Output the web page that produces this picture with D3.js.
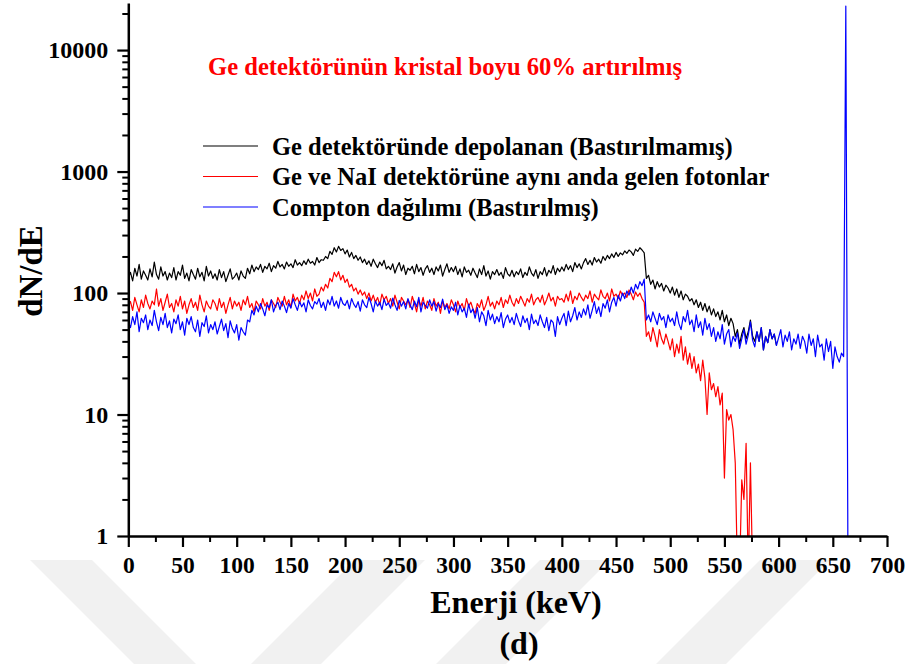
<!DOCTYPE html>
<html><head><meta charset="utf-8">
<script src="https://cdn.jsdelivr.net/npm/d3@7"></script>
<style>
body{margin:0;background:#fff}
svg{display:block}
text{font-family:"Liberation Serif","Times New Roman",serif;font-weight:bold}
</style>
</head><body>
<svg id="c" width="910" height="664"></svg>
<script>
// ---------- DATA ----------
const binWidth = 2; // keV per channel
// Ge detektöründe depolanan (Bastırılmamış) – channels from 0 keV
const blackCounts = [
132,148,126,160,138,172,130,152,140,128,
158,136,180,142,130,164,138,150,128,146,
134,162,128,150,140,170,132,146,126,156,
142,130,160,136,148,126,166,138,152,132,
144,128,156,134,150,124,140,158,130,136,
146,128,152,138,132,160,144,170,150,164,
156,172,148,166,158,176,150,168,160,182,
164,172,158,180,166,174,162,188,170,178,
168,184,172,190,176,182,170,196,178,188,
186,200,192,220,208,236,218,242,224,232,
210,226,198,216,192,204,186,198,178,190,
172,184,166,190,174,162,180,168,186,158,
166,156,174,146,164,178,152,170,142,160,
154,166,144,172,150,162,140,158,168,148,
160,142,164,152,170,138,156,174,148,162,
150,166,142,158,136,164,148,154,140,160,
146,134,158,142,168,138,152,130,150,142,
156,140,148,132,162,144,138,154,136,150,
142,158,134,148,140,164,146,138,156,132,
150,142,162,138,154,146,168,142,160,150,
164,152,172,156,168,150,178,162,174,158,
178,192,172,186,170,196,180,190,176,200,
186,204,192,210,196,216,200,214,206,222,
212,226,218,204,230,220,236,226,214,132,
140,118,128,108,124,112,120,104,116,110,
100,112,96,108,92,104,88,98,94,86,
90,80,88,76,84,72,82,70,78,66,
74,64,70,60,72,58,66,54,62,56,
44,50,38,46,52,42,48,60,44,40,
48,40,52,34,44,39,50,42,46,37
];
// Ge ve NaI detektörüne aynı anda gelen fotonlar
const redCounts = [
78,85,72,92,80,70,88,76,96,82,
74,86,80,108,78,90,72,84,98,76,
82,70,88,78,94,74,86,68,80,90,
76,84,72,96,80,70,86,78,74,88,
82,72,90,76,84,68,80,92,74,86,
78,84,72,88,80,94,76,82,70,86,
80,74,90,78,84,72,88,82,76,92,
84,78,94,80,88,76,98,86,92,82,
96,88,104,90,100,86,108,94,98,112,
104,118,110,132,124,148,136,150,128,140,
122,130,112,118,104,110,98,106,96,102,
90,100,86,96,84,92,80,98,88,94,
82,90,78,96,84,74,92,86,80,88,
76,94,82,70,88,78,92,74,86,80,
72,90,78,84,68,86,76,82,74,88,
80,70,86,76,82,72,90,78,84,74,
68,82,76,88,72,80,94,78,84,74,
86,80,92,76,88,82,96,84,78,90,
82,94,86,78,90,84,98,80,88,92,
84,96,80,88,100,86,92,78,94,88,
90,84,98,86,104,82,94,88,100,92,
86,96,90,104,84,98,92,88,106,94,
90,100,86,108,94,98,90,104,96,100,
92,106,98,88,102,94,100,90,84,44,
48,40,52,44,36,50,42,38,46,40,
34,42,30,38,32,44,28,36,26,32,
24,30,22,26,19,28,20,10,22,16,
18,14,17,12,15,3,11,9,10,7.5,
4,0,0,2.9,2,5.8,0,4,0,0,
0,0
];
// Compton dağılımı (Bastırılmış)
const blueCounts = [
58,52,64,55,70,48,62,57,66,50,
60,54,72,58,49,63,55,68,52,59,
47,61,56,66,50,58,45,62,55,64,
52,48,60,44,57,53,65,47,55,50,
58,46,53,61,49,56,43,59,51,47,
55,41,52,48,45,60,58,72,66,78,
70,82,74,65,80,76,88,70,79,84,
73,86,78,69,82,75,90,80,72,85,
77,83,70,88,79,74,85,81,90,76,
84,72,88,80,94,78,86,75,92,82,
79,87,74,90,81,76,85,71,88,80,
76,92,82,70,86,78,84,73,89,79,
83,75,91,80,72,87,78,85,74,90,
80,73,86,77,92,70,84,79,75,88,
78,85,71,82,76,89,73,80,68,77,
72,84,66,79,70,75,63,81,69,74,
62,76,58,70,65,54,72,60,67,56,
64,58,69,52,61,66,57,63,55,68,
59,53,65,57,62,50,67,56,60,54,
66,58,52,63,49,60,57,44,64,55,
62,68,54,71,58,65,76,60,70,63,
74,66,80,62,72,85,68,77,64,82,
75,88,70,84,92,78,96,86,100,90,
104,96,112,100,118,108,124,115,130,60,
66,58,70,62,55,68,60,64,52,66,
58,62,54,70,56,50,64,58,72,55,
60,48,66,52,58,45,62,50,56,44,
52,40,48,42,55,38,46,50,36,44,
40,47,35,42,50,38,45,58,41,36,
48,40,52,34,44,39,50,42,46,37,
43,50,36,45,40,48,34,42,38,46,
35,44,40,32,46,37,42,30,45,36,
38,28,42,33,40,24,36,30,27,32,
30,23000,0
];
const seriesNames = [
  "Ge detektöründe depolanan (Bastırılmamış)",
  "Ge ve NaI detektörüne aynı anda gelen fotonlar",
  "Compton dağılımı (Bastırılmış)"
];
const seriesColors = ["#000000","#ff0000","#0000ff"];
const xTicks = [0,50,100,150,200,250,300,350,400,450,500,550,600,650,700];
const yTicks = [1,10,100,1000,10000];
const titleText = "Ge detektörünün kristal boyu 60% artırılmış";
const xLabel = "Enerji (keV)";
const yLabel = "dN/dE";
const panelLabel = "(d)";

// ---------- CHART ----------
const svg = d3.select("#c");
const x = d3.scaleLinear().domain([0,700]).range([128.3,887]);
const y = d3.scaleLog().domain([1,24400]).range([536,3]);

// faint watermark bands
const wm = svg.append("g").attr("fill","#f1f1f1");
const bandPath = (x0, w, dir) => {
  const y0 = 560, y1 = 664, d = (y1 - y0) * dir;
  return `M${x0},${y0}L${x0+w},${y0}L${x0+w+d},${y1}L${x0+d},${y1}Z`;
};
wm.append("path").attr("d", bandPath(30, 62, 1));
wm.append("path").attr("d", bandPath(355, 70, -1));
wm.append("path").attr("d", bandPath(540, 70, -1));
wm.append("path").attr("d", bandPath(760, 70, -1));

svg.append("defs").append("clipPath").attr("id","clip")
  .append("rect").attr("x",128).attr("y",0).attr("width",760).attr("height",536);

const toPoints = arr => arr.map((v,i)=>({e:i*binWidth, v}));
const series = [blackCounts, redCounts, blueCounts].map(toPoints);
const line = d3.line().x(d=>x(d.e)).y(d=> d.v>0 ? y(d.v) : y(0.5));

const plot = svg.append("g").attr("clip-path","url(#clip)");
series.forEach((s,i)=>{
  plot.append("path").datum(s).attr("d",line)
    .attr("fill","none").attr("stroke",seriesColors[i])
    .attr("stroke-width",1.2).attr("stroke-linejoin","round");
});

// minor ticks
const yMinor = [];
[1,10,100,1000,10000].forEach(d=>{for(let k=2;k<=9;k++){const v=d*k; if(v<=24400) yMinor.push(v);}});
const xMinor = xTicks.slice(0,-1).map(v=>v+25);

svg.append("g").attr("transform","translate(128.3,0)")
  .call(d3.axisLeft(y).tickValues(yMinor).tickSize(6).tickFormat(""))
  .call(g=>g.select(".domain").remove())
  .call(g=>g.selectAll("line").attr("stroke-width",2));
svg.append("g").attr("transform","translate(0,536)")
  .call(d3.axisBottom(x).tickValues(xMinor).tickSize(6).tickFormat(""))
  .call(g=>g.select(".domain").remove())
  .call(g=>g.selectAll("line").attr("stroke-width",2));

const yAxis = svg.append("g").attr("transform","translate(128.3,0)")
  .call(d3.axisLeft(y).tickValues(yTicks).tickSize(11).tickSizeOuter(0).tickFormat(d3.format("d")));
yAxis.select(".domain").attr("stroke-width",2.5);
yAxis.selectAll("line").attr("stroke-width",2.2);
yAxis.selectAll("text").attr("x",-20).attr("font-size",24).attr("fill","#000")
  .attr("font-family","Liberation Serif").attr("font-weight","bold");

const xAxis = svg.append("g").attr("transform","translate(0,536)")
  .call(d3.axisBottom(x).tickValues(xTicks).tickSize(11).tickSizeOuter(0).tickFormat(d3.format("d")));
xAxis.select(".domain").attr("stroke-width",2.5);
xAxis.selectAll("line").attr("stroke-width",2.2);
xAxis.selectAll("text").attr("y",37).attr("dy",0).attr("font-size",23.5).attr("fill","#000")
  .attr("font-family","Liberation Serif").attr("font-weight","bold");

// legend
const legendY = [146,176.5,207];
seriesNames.forEach((name,i)=>{
  svg.append("line").attr("x1",203).attr("x2",258).attr("y1",legendY[i]).attr("y2",legendY[i])
    .attr("stroke",seriesColors[i]).attr("stroke-width",1.2);
  svg.append("text").attr("x",272).attr("y",legendY[i]+8.5).attr("font-size",24.5)
    .attr("fill","#000").text(name);
});

// title & axis labels
svg.append("text").attr("x",208).attr("y",75).attr("font-size",25).attr("fill","#ff0000")
  .attr("textLength",474).attr("lengthAdjust","spacingAndGlyphs").text(titleText);
svg.append("text").attr("x",516).attr("y",613).attr("text-anchor","middle")
  .attr("font-size",32).attr("fill","#000").text(xLabel);
svg.append("text").attr("x",519).attr("y",654).attr("text-anchor","middle")
  .attr("font-size",32).attr("fill","#000").text(panelLabel);
svg.append("text").attr("transform","translate(41.5,271) rotate(-90)").attr("text-anchor","middle")
  .attr("font-size",33).attr("fill","#000").text(yLabel);
</script>
</body></html>
